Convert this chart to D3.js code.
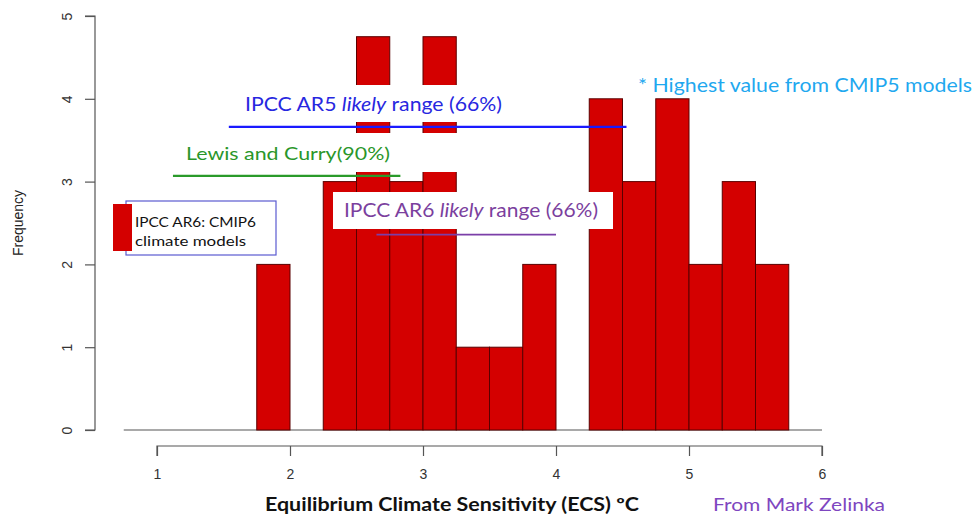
<!DOCTYPE html>
<html><head><meta charset="utf-8">
<script src="https://cdn.jsdelivr.net/npm/d3@7"></script>
<style>body{margin:0;background:#fff}svg{display:block}</style>
</head><body><svg id="c" width="975" height="517"></svg>
<script>
// ---- data ----
const binStarts = [0.75,1.0,1.25,1.5,1.75,2.0,2.25,2.5,2.75,3.0,3.25,3.5,3.75,4.0,4.25,4.5,4.75,5.0,5.25,5.5,5.75];
const counts    = [0,0,0,0,2,0,3,4.75,3,4.75,1,1,2,0,4,3,4,2,3,2,0];
const binWidth = 0.25;
const xTicks = [1,2,3,4,5,6];
const yTicks = [0,1,2,3,4,5];
const rangeNames = ["AR5","Lewis","AR6"];
const rangeLo    = [1.54,1.12,2.65];
const rangeHi    = [4.53,2.83,4.0];
const rangeLevel = [3.66,3.07,2.36];

const svg = d3.select("#c");
const x = d3.scaleLinear().domain([1,6]).range([157,822]);
const y = d3.scaleLinear().domain([0,5]).range([430,16]);
const calib = "Lato, 'Open Sans', sans-serif";
const arial = "'Liberation Sans', Arial, sans-serif";

// baseline (zero bins)
svg.append("line").attr("x1",x(binStarts[0])).attr("x2",x(binStarts[binStarts.length-1]+binWidth))
  .attr("y1",y(0)).attr("y2",y(0)).attr("stroke","#555").attr("stroke-width",1.2);

// bars
svg.append("g").selectAll("rect").data(binStarts.map((s,i)=>({s,c:counts[i]})).filter(d=>d.c>0))
  .join("rect")
  .attr("x",d=>x(d.s)).attr("width",d=>x(d.s+binWidth)-x(d.s))
  .attr("y",d=>y(d.c)).attr("height",d=>y(0)-y(d.c))
  .attr("fill","#d40000").attr("stroke","#5a0000").attr("stroke-width",1);

// white label backgrounds
svg.append("rect").attr("x",232).attr("y",85).attr("width",285).attr("height",37).attr("fill","#fff");
svg.append("rect").attr("x",176).attr("y",133).attr("width",292).attr("height",39).attr("fill","#fff");
svg.append("rect").attr("x",333).attr("y",192).attr("width",280).attr("height",37).attr("fill","#fff");

// range lines
const lineColors = ["#1a1aff","#2a9a2a","#7b3fa8"];
const lineWidths = [2.2,2.2,1.8];
rangeNames.forEach((n,i)=>{
  svg.append("line").attr("x1",x(rangeLo[i])).attr("x2",x(rangeHi[i]))
    .attr("y1",y(rangeLevel[i])).attr("y2",y(rangeLevel[i]))
    .attr("stroke",lineColors[i]).attr("stroke-width",lineWidths[i]);
});

// labels
function lab(txt, xx, yy, size, color, opts={}) {
  const t = svg.append("text").attr("x",xx).attr("y",yy).attr("font-family",opts.family||calib)
    .attr("font-size",size).attr("fill",color).attr("font-weight",opts.weight||"normal");
  if (opts.len) t.attr("textLength",opts.len).attr("lengthAdjust","spacingAndGlyphs");
  if (txt) t.text(txt);
  return t;
}
let t = lab("",245,111,19,"#2727e0",{len:257});
t.append("tspan").text("IPCC AR5 ");
t.append("tspan").attr("font-style","italic").text("likely");
t.append("tspan").text(" range (66%)");

lab("Lewis and Curry(90%)",186,160,18,"#2a962a",{len:204});

lab("* Highest value from CMIP5 models",638,92,20,"#1fa8ef",{len:334});

t = lab("",344,217,19,"#7b3f9e",{len:254});
t.append("tspan").text("IPCC AR6 ");
t.append("tspan").attr("font-style","italic").text("likely");
t.append("tspan").text(" range (66%)");

// legend box
svg.append("rect").attr("x",126).attr("y",201).attr("width",150).attr("height",54)
  .attr("fill","#fff").attr("stroke","#5b5bd0").attr("stroke-width",1.2);
svg.append("rect").attr("x",113).attr("y",204).attr("width",19).attr("height",47).attr("fill","#d40000");
lab("IPCC AR6: CMIP6",135,227,13,"#111",{len:121});
lab("climate models",135,246,13,"#111",{len:111});

// y axis
const yAx = svg.append("g").attr("transform","translate(95,0)")
  .call(d3.axisLeft(y).tickValues(yTicks).tickSize(10).tickFormat(d3.format("d")));
yAx.select(".domain").attr("stroke","#555").attr("stroke-width",1.2).attr("d",`M-10,${y(5)}H0V${y(0)}H-10`);
yAx.selectAll(".tick line").attr("stroke","#555").attr("stroke-width",1.2);
yAx.selectAll(".tick text").attr("font-family",arial).attr("font-size",14).attr("fill","#333")
  .attr("text-anchor","middle").attr("transform","rotate(-90)").attr("x",0).attr("y",-28).attr("dy","0.35em");

// x axis
const xAx = svg.append("g").attr("transform","translate(0,446)")
  .call(d3.axisBottom(x).tickValues(xTicks).tickSize(10).tickFormat(d3.format("d")));
xAx.select(".domain").attr("stroke","#555").attr("stroke-width",1.2).attr("d",`M${x(1)},10V0H${x(6)}V10`);
xAx.selectAll(".tick line").attr("stroke","#555").attr("stroke-width",1.2);
xAx.selectAll(".tick text").attr("font-family",arial).attr("font-size",14).attr("fill","#333").attr("y",28).attr("dy","0.35em");

// axis titles
svg.append("text").attr("transform","translate(23,223) rotate(-90)").attr("text-anchor","middle")
  .attr("font-family",arial).attr("font-size",14).attr("fill","#222").text("Frequency");
lab("Equilibrium Climate Sensitivity (ECS) ºC",265,511,18,"#111",{weight:"bold",len:374});
lab("From Mark Zelinka",713,511,18,"#7e46c0",{len:172});
</script></body></html>
